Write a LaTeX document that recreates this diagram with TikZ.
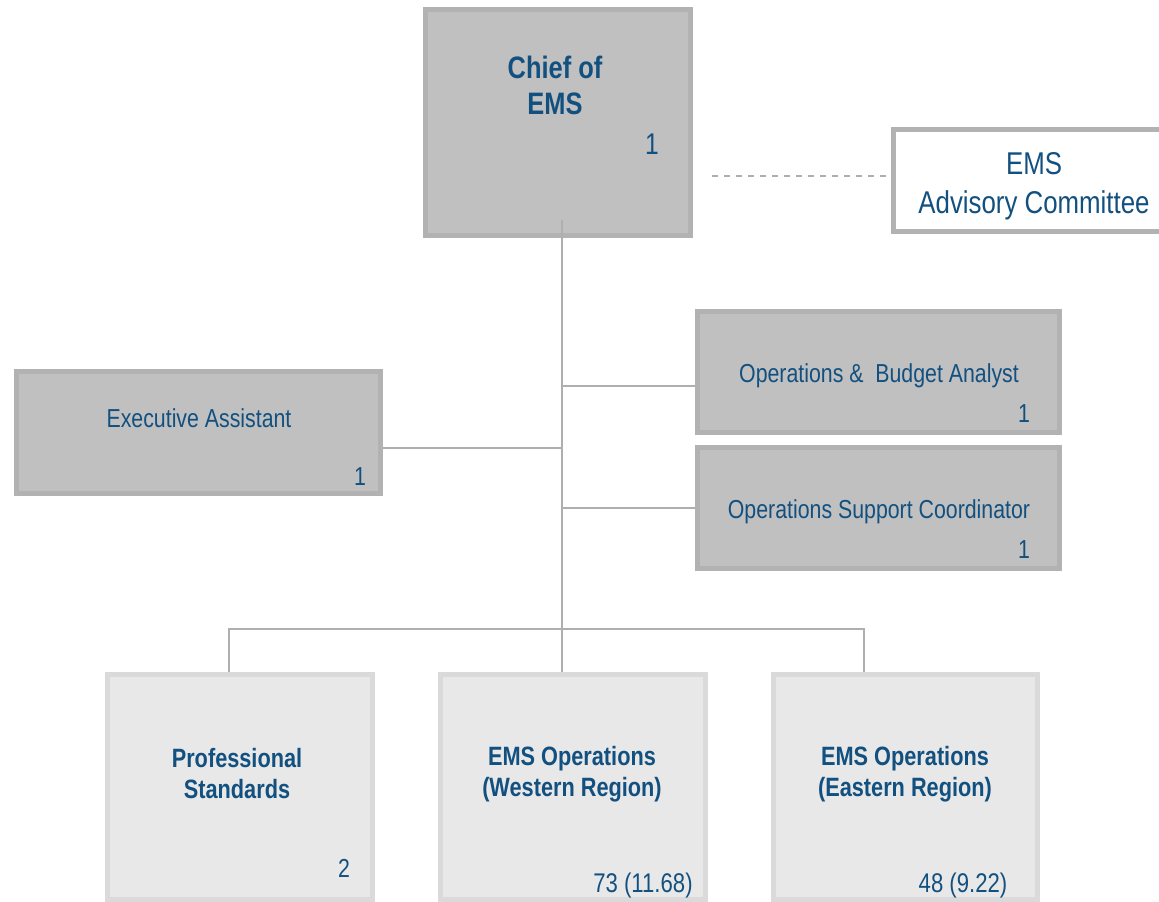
\documentclass[tikz,border=0pt]{standalone}
\usepackage{fontspec}
\setmainfont[FakeStretch=0.82]{Liberation Sans}
\usepackage{tikz}
\usetikzlibrary{positioning}
\definecolor{txtblue}{RGB}{18,80,128}
\definecolor{darkfill}{RGB}{192,192,192}
\definecolor{darkedge}{RGB}{178,178,178}
\definecolor{lightfill}{RGB}{232,232,232}
\definecolor{lightedge}{RGB}{218,218,218}
\definecolor{linkgray}{RGB}{175,175,175}

\begin{document}
\begin{tikzpicture}[line cap=butt,line join=miter,x=1pt,y=-1pt,
  darkbox/.style={draw=darkedge,fill=darkfill,line width=5pt,inner sep=0pt},
  lightbox/.style={draw=lightedge,fill=lightfill,line width=5pt,inner sep=0pt},
  whitebox/.style={draw=darkedge,fill=white,line width=5pt,inner sep=0pt},
  link/.style={draw=linkgray,line width=2pt},
  lbl/.style={text=txtblue,inner sep=0pt,align=center,font=\fontsize{26}{31}\selectfont},
  bigbold/.style={text=txtblue,inner sep=0pt,align=center,font=\fontsize{31}{36}\selectfont\bfseries},
  bold/.style={text=txtblue,inner sep=0pt,align=center,font=\fontsize{26.5}{31}\selectfont\bfseries}]
\useasboundingbox (0,0) rectangle (1159,902);
\clip (0,0) rectangle (1159,902);
\node[darkbox,minimum width=265pt,minimum height=226pt] (chief) at (558,122.5) {};
\node[whitebox,minimum width=300pt,minimum height=102pt] (advisory) at (1043.5,180.5) {};
\node[darkbox,minimum width=364pt,minimum height=122pt] (exec) at (198.5,432.5) {};
\node[darkbox,minimum width=362pt,minimum height=121pt] (budget) at (878.5,372) {};
\node[darkbox,minimum width=362pt,minimum height=121pt] (support) at (878.5,508) {};
\node[lightbox,minimum width=265pt,minimum height=225pt] (prof) at (240,787) {};
\node[lightbox,minimum width=265pt,minimum height=225pt] (west) at (573,787) {};
\node[lightbox,minimum width=264pt,minimum height=225pt] (east) at (905.5,787) {};
\node[bigbold] (chieftxt) at (555,85) {Chief of\\EMS};
\node[lbl,font=\fontsize{30}{36}\selectfont,anchor=base] (chiefnum) at (652,154) {1};
\node[lbl,font=\fontsize{31.5}{39}\selectfont] (advtxt) at (1034,186) {EMS\\Advisory Committee};
\node[lbl,anchor=base] (exectxt) at (199,427) {Executive Assistant};
\node[lbl,anchor=base] (execnum) at (360,485) {1};
\node[lbl,anchor=base] (budgettxt) at (879,382) {Operations \&\ \ Budget Analyst};
\node[lbl,anchor=base] (budgetnum) at (1024,422) {1};
\node[lbl,anchor=base] (supporttxt) at (879,518) {Operations Support Coordinator};
\node[lbl,anchor=base] (supportnum) at (1024,558) {1};
\node[bold] (proftxt) at (237,774) {Professional\\Standards};
\node[bold] (westtxt) at (572,774) {EMS Operations\\(Western Region)};
\node[bold] (easttxt) at (905,774) {EMS Operations\\(Eastern Region)};
\node[lbl,anchor=base] (profnum) at (344,877) {2};
\node[lbl,font=\fontsize{27}{31}\selectfont,anchor=base] (westnum) at (643,892) {73 (11.68)};
\node[lbl,font=\fontsize{27}{31}\selectfont,anchor=base] (eastnum) at (963,892) {48 (9.22)};
\coordinate (trunk) at (562,220);
\coordinate (jbudget) at (562,386);
\coordinate (jexec) at (562,448);
\coordinate (jsupport) at (562,508);
\coordinate (busl) at (229,629);
\coordinate (busr) at (864,629);
\coordinate (dash0) at (712,176);
\draw[link] (trunk) -- (trunk |- west.north);
\draw[link] (jbudget) -- (budget.west |- jbudget);
\draw[link] (jexec) -- (exec.east |- jexec);
\draw[link] (jsupport) -- (support.west |- jsupport);
\draw[link] (busl |- prof.north) -- (busl) -- (busr) -- (busr |- east.north);
\draw[link,dash pattern=on 6pt off 6pt] (dash0) -- (advisory.west |- dash0);
\end{tikzpicture}
\end{document}
